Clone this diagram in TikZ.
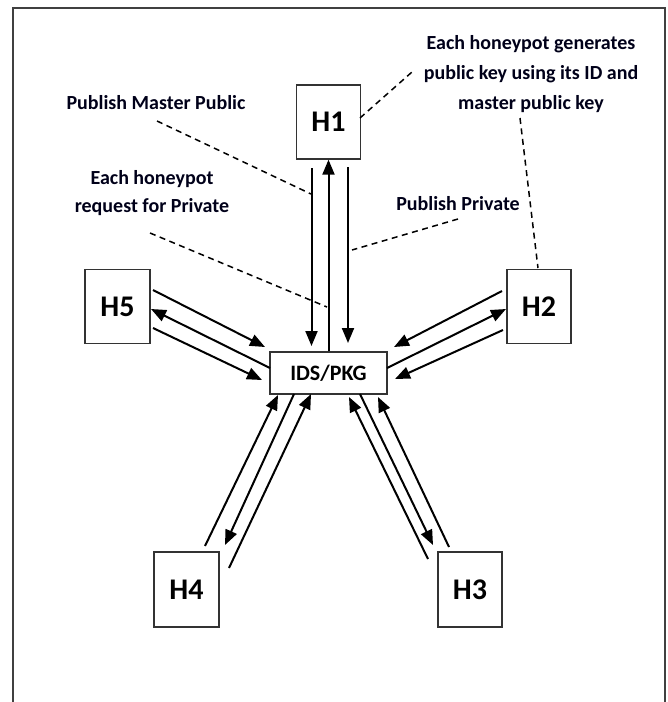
\documentclass[tikz,border=0pt]{standalone}
\usepackage{fontspec}
\setmainfont{Carlito}
\usetikzlibrary{arrows.meta}
\begin{document}
\begin{tikzpicture}[x=1pt,y=-1pt,
  hbox/.style={draw=black!80,line width=1.3pt,minimum width=64pt,minimum height=74pt,inner sep=0pt,font=\fontsize{30}{34}\selectfont\bfseries},
  pkg/.style={draw=black!80,line width=1.3pt,minimum width=117pt,minimum height=42pt,inner sep=0pt,font=\fontsize{22}{26}\selectfont\bfseries},
  flow/.style={line width=2pt,-{Triangle[length=15pt,width=12pt]}},
  note/.style={font=\fontsize{20}{30}\selectfont\bfseries,align=center,text=black!90!blue,inner sep=0pt},
  lead/.style={dash pattern=on 6pt off 4.5pt,line width=1.5pt}]
\useasboundingbox (0,0) rectangle (668,702);
\draw[line width=1.2pt,black!75] (13,702) -- (13,8) -- (665,8) -- (665,702);

% nodes
\node[hbox] (h1) at (328.5,122) {H1};
\node[hbox] (h2) at (539,306.5) {H2};
\node[hbox,minimum height=75pt] (h3) at (470,589.5) {H3};
\node[hbox,minimum height=75pt,minimum width=65pt] (h4) at (186.5,589.5) {H4};
\node[hbox,minimum width=65pt] (h5) at (117.5,306.5) {H5};
\node[pkg] (ids) at (328.5,373) {IDS/PKG};

% texts
\node[note] (tmaster) at (156,103) {Publish Master Public};
\node[note,font=\fontsize{20}{28}\selectfont\bfseries] (treq) at (152,193) {Each honeypot\\request for Private};
\node[note] (tgen) at (531,74) {Each honeypot generates\\public key using its ID and\\master public key};
\node[note] (tpriv) at (458,204) {Publish Private};

% H1 arrows
\coordinate (a1s) at (311.5,168); \coordinate (a1e) at (311.5,346);
\coordinate (a3s) at (348,167);   \coordinate (a3e) at (348,343);
\draw[flow] (a1s) -- (a1e);
\draw[flow] (ids.north) -- (h1.south);
\draw[flow] (a3s) -- (a3e);

% H2 arrows
\coordinate (b1s) at (502,291); \coordinate (b1e) at (394,347);
\coordinate (b2s) at (387,368); \coordinate (b2e) at (506,309);
\coordinate (b3s) at (503,330); \coordinate (b3e) at (395,379);
\draw[flow] (b1s) -- (b1e);
\draw[flow] (b2s) -- (b2e);
\draw[flow] (b3s) -- (b3e);

% H5 arrows
\coordinate (c1s) at (153,290); \coordinate (c1e) at (265,347);
\coordinate (c2s) at (270,368); \coordinate (c2e) at (151,309);
\coordinate (c3s) at (153,328); \coordinate (c3e) at (262,380);
\draw[flow] (c1s) -- (c1e);
\draw[flow] (c2s) -- (c2e);
\draw[flow] (c3s) -- (c3e);

% H4 arrows
\coordinate (d1s) at (205,546); \coordinate (d1e) at (278,395);
\coordinate (d2s) at (294,394); \coordinate (d2e) at (225,545);
\coordinate (d3s) at (229,568); \coordinate (d3e) at (311,394);
\draw[flow] (d1s) -- (d1e);
\draw[flow] (d2s) -- (d2e);
\draw[flow] (d3s) -- (d3e);

% H3 arrows
\coordinate (e1s) at (428,559); \coordinate (e1e) at (349,397);
\coordinate (e2s) at (360,394); \coordinate (e2e) at (433,545);
\coordinate (e3s) at (449,547); \coordinate (e3e) at (378,397);
\draw[flow] (e1s) -- (e1e);
\draw[flow] (e2s) -- (e2e);
\draw[flow] (e3s) -- (e3e);

% dashed leaders
\coordinate (l1s) at (157,121); \coordinate (l1e) at (311,194);
\coordinate (l2s) at (150,233); \coordinate (l2e) at (327,307);
\coordinate (l3s) at (360,118); \coordinate (l3e) at (412,72);
\coordinate (l4s) at (520,118); \coordinate (l4e) at (538,268);
\coordinate (l5s) at (458,219); \coordinate (l5e) at (352,250);
\draw[lead] (l1s) -- (l1e);
\draw[lead] (l2s) -- (l2e);
\draw[lead] (l3s) -- (l3e);
\draw[lead] (l4s) -- (l4e);
\draw[lead] (l5s) -- (l5e);
\end{tikzpicture}
\end{document}
